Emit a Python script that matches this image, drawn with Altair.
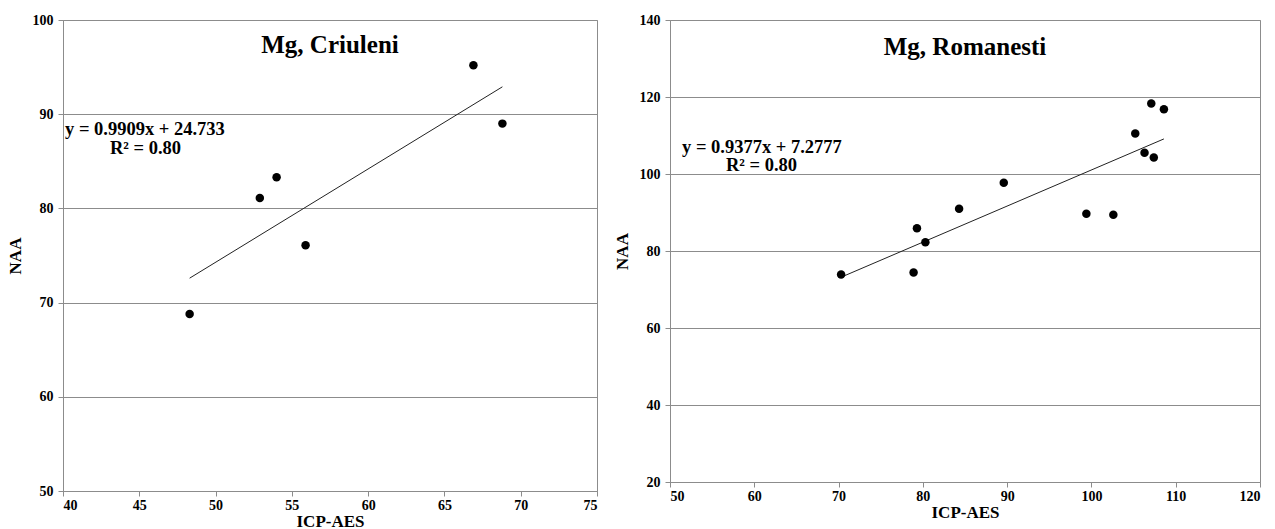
import altair as alt
import pandas as pd

# Mg concentrations measured by two methods, Criuleni samples
criuleni_icp = [48.3, 52.9, 54.0, 55.9, 66.9, 68.8]
criuleni_naa = [68.8, 81.1, 83.3, 76.1, 95.2, 89.0]

# Mg concentrations, Romanesti samples
romanesti_icp = [70.3, 78.9, 79.3, 80.3, 84.3, 89.6, 99.4, 102.6, 105.2, 106.3, 107.1, 107.4, 108.6]
romanesti_naa = [73.9, 74.4, 85.9, 82.3, 91.0, 97.7, 89.7, 89.4, 110.5, 105.5, 118.3, 104.3, 116.8]

# Linear fits as reported on each panel
criuleni_fit = {"slope": 0.9909, "intercept": 24.733, "r2": "0.80"}
romanesti_fit = {"slope": 0.9377, "intercept": 7.2777, "r2": "0.80"}

# Axis ranges and tick steps
criuleni_x = [40, 75, 5]
criuleni_y = [50, 100, 10]
romanesti_x = [50, 120, 10]
romanesti_y = [20, 140, 20]

FONT = "Liberation Serif"
GRAY = "#8c8c8c"


def panel(icp, naa, fit, xr, yr, w, h, title, title_y, eq_pos, r2_pos):
    pts = pd.DataFrame({"ICP-AES": icp, "NAA": naa})
    lo, hi = min(icp), max(icp)
    line_df = pd.DataFrame({
        "ICP-AES": [lo, hi],
        "NAA": [fit["slope"] * lo + fit["intercept"], fit["slope"] * hi + fit["intercept"]],
    })
    xscale = alt.Scale(domain=[xr[0], xr[1]], nice=False, zero=False)
    yscale = alt.Scale(domain=[yr[0], yr[1]], nice=False, zero=False)
    xaxis = alt.Axis(values=list(range(xr[0], xr[1] + 1, xr[2])), grid=False, title="ICP-AES")
    yaxis = alt.Axis(values=list(range(yr[0], yr[1] + 1, yr[2])), grid=True, title="NAA")

    dots = alt.Chart(pts).mark_circle(size=72, color="black", opacity=1).encode(
        x=alt.X("ICP-AES:Q", scale=xscale, axis=xaxis),
        y=alt.Y("NAA:Q", scale=yscale, axis=yaxis),
    )
    trend = alt.Chart(line_df).mark_line(color="#222222", strokeWidth=1).encode(
        x=alt.X("ICP-AES:Q", scale=xscale),
        y=alt.Y("NAA:Q", scale=yscale),
    )
    eq_text = "y = {:.4f}x + {}".format(fit["slope"], fit["intercept"])
    head = alt.Chart(pd.DataFrame({"t": [title]})).mark_text(
        font=FONT, fontSize=25, fontWeight="bold", color="black", align="center", baseline="middle"
    ).encode(x=alt.value(w / 2), y=alt.value(title_y), text="t:N")
    eq = alt.Chart(pd.DataFrame({"t": [eq_text]})).mark_text(
        font=FONT, fontSize=18.5, fontWeight="bold", color="black", align="left", baseline="middle"
    ).encode(x=alt.value(eq_pos[0]), y=alt.value(eq_pos[1]), text="t:N")
    r2 = alt.Chart(pd.DataFrame({"t": ["R² = " + fit["r2"]]})).mark_text(
        font=FONT, fontSize=18.5, fontWeight="bold", color="black", align="left", baseline="middle"
    ).encode(x=alt.value(r2_pos[0]), y=alt.value(r2_pos[1]), text="t:N")
    return alt.layer(trend, dots, head, eq, r2).properties(width=w, height=h)


left = panel(criuleni_icp, criuleni_naa, criuleni_fit, criuleni_x, criuleni_y,
             534, 471, "Mg, Criuleni", 25, (2, 109), (47, 128))
right = panel(romanesti_icp, romanesti_naa, romanesti_fit, romanesti_x, romanesti_y,
              590, 462, "Mg, Romanesti", 27, (12, 127), (56, 145))

chart = alt.hconcat(left, right, spacing=14).properties(
    padding={"left": 5, "top": 12, "right": 5, "bottom": 3}
).configure_view(
    stroke=GRAY, strokeWidth=1
).configure_axis(
    labelFont=FONT, labelFontSize=14, labelFontWeight="bold", labelColor="black",
    titleFont=FONT, titleFontSize=17, titleFontWeight="bold", titleColor="black",
    domainColor=GRAY, tickColor=GRAY, tickSize=5, labelPadding=5,
    gridColor=GRAY, gridWidth=1,
).configure_axisY(
    titlePadding=8
).configure_axisX(
    titlePadding=1, labelPadding=2
)

chart.save("out.html", embed_options={"renderer": "svg", "actions": False})
